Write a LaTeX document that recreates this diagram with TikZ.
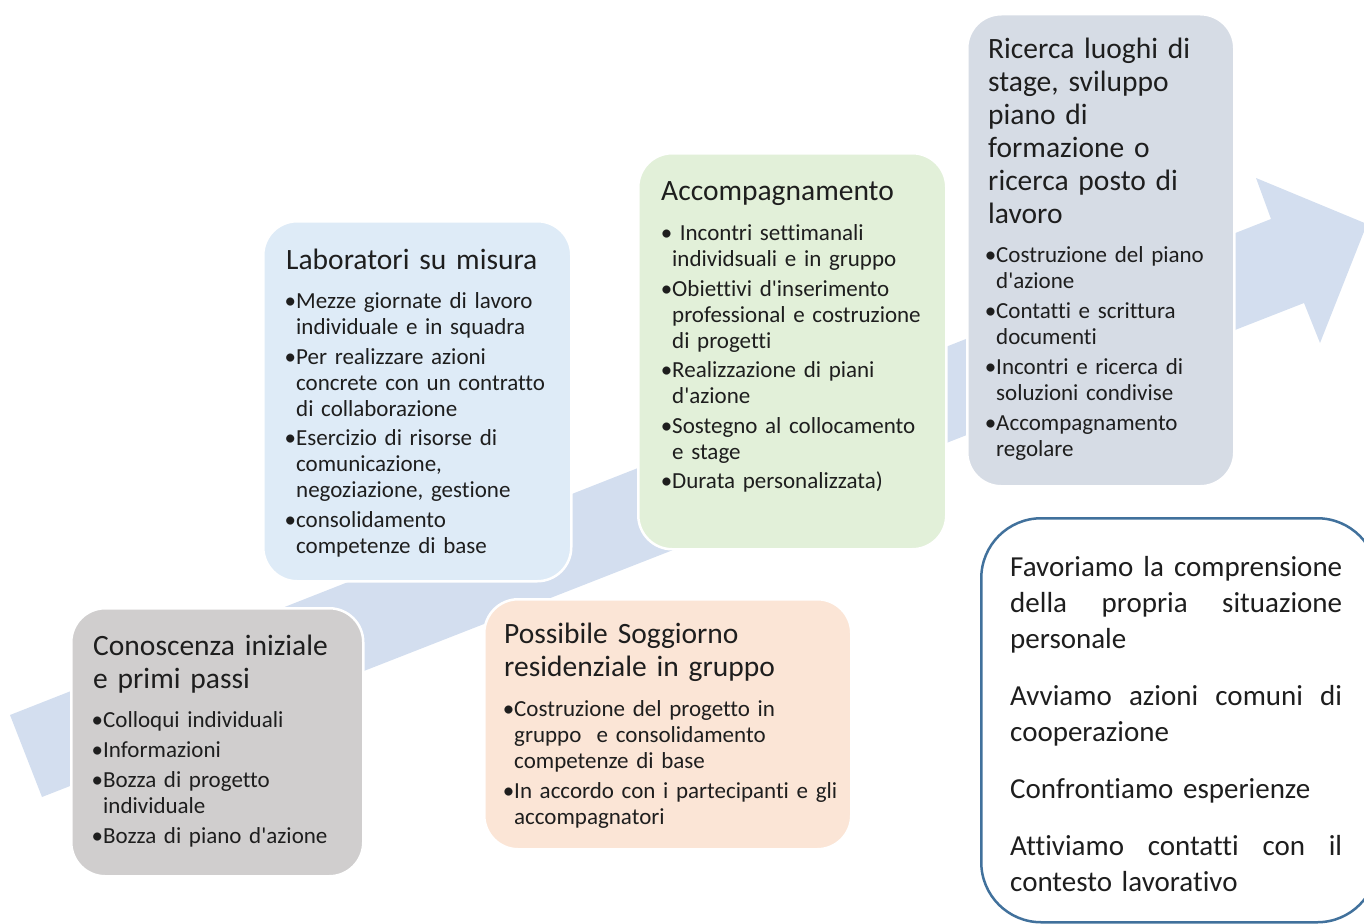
\documentclass[tikz,border=0pt]{standalone}
\usepackage{fontspec}
\setmainfont{Carlito}[Ligatures={TeXOff,CommonOff}]
\definecolor{arrowblue}{RGB}{211,222,239}
\definecolor{boxgray}{RGB}{208,206,206}
\definecolor{boxblue}{RGB}{222,235,247}
\definecolor{boxgreen}{RGB}{226,240,217}
\definecolor{boxpeach}{RGB}{251,229,214}
\definecolor{boxslate}{RGB}{214,220,229}
\definecolor{frameblue}{RGB}{65,113,156}
\definecolor{ink}{RGB}{30,30,30}
\newcommand{\bl}{\leavevmode\llap{•}}
\newcommand{\jline}[1]{\makebox[332pt][s]{#1}}

\begin{document}
\begin{tikzpicture}[x=1pt, y=-1pt,
  stepbox/.style={draw=white, line width=2.5pt, rounded corners=34pt, anchor=north west, inner sep=0pt},
  boxtitle/.style={anchor=base west, text width=380pt, align=left, inner sep=0pt, text=ink, font=\fontsize{29.5}{33}\selectfont},
  boxlist/.style={anchor=base west, text width=380pt, align=left, inner sep=0pt, text=ink, font=\fontsize{23}{26}\selectfont},
  ]
  \useasboundingbox (0,0) rectangle (1364,923);
  \clip (0,0) rectangle (1364,923);
  % big arrow behind the steps
  \fill[arrowblue] (10,715) -- (1271,219) -- (1256,178) -- (1367,224) -- (1320,343) -- (1304,303) -- (42,797) -- cycle;

  \node[stepbox, fill=boxgray, minimum width=292pt, minimum height=268pt] (conosc) at (70,607) {};
  \node[stepbox, fill=boxblue, minimum width=308pt, minimum height=360pt] (lab) at (262,220) {};
  \node[stepbox, fill=boxgreen, minimum width=308pt, minimum height=396pt] (accomp) at (637,152) {};
  \node[stepbox, fill=boxpeach, minimum width=367pt, minimum height=250pt] (sogg) at (483,598) {};
  \node[stepbox, fill=boxslate, minimum width=267pt, minimum height=472pt] (ricerca) at (966,13) {};
  \node[draw=frameblue, line width=2.5pt, rounded corners=60pt, fill=white, anchor=north west, inner sep=0pt,
        minimum width=396pt, minimum height=404pt] (favor) at (980,517) {};

  \node[boxtitle] (conosc-t) at (93,655) {Conoscenza iniziale\\e primi passi};
  \node[boxlist] (conosc-l) at (103,727.5) {\bl Colloqui individuali\\[4pt]\bl Informazioni\\[4pt]\bl Bozza di progetto\\individuale\\[4pt]\bl Bozza di piano d'azione};

  \node[boxtitle] (lab-t) at (286,269) {Laboratori su misura};
  \node[boxlist] (lab-l) at (296,308.5) {\bl Mezze giornate di lavoro\\individuale e in squadra\\[3.5pt]\bl Per realizzare azioni\\concrete con un contratto\\di collaborazione\\[3.5pt]\bl Esercizio di risorse di\\comunicazione,\\negoziazione, gestione\\[3.5pt]\bl consolidamento\\competenze di base};

  \node[boxtitle] (accomp-t) at (661,200) {Accompagnamento};
  \node[boxlist] (accomp-l) at (672,240.5) {\bl\ Incontri settimanali\\individsuali e in gruppo\\[3.5pt]\bl Obiettivi d'inserimento\\professional e costruzione\\di progetti\\[3.5pt]\bl Realizzazione di piani\\d'azione\\[3.5pt]\bl Sostegno al collocamento\\e stage\\[3.5pt]\bl Durata personalizzata)};

  \node[boxtitle] (sogg-t) at (504,643) {Possibile Soggiorno\\residenziale in gruppo};
  \node[boxlist] (sogg-l) at (514,716.5) {\bl Costruzione del progetto in\\gruppo\ \ e consolidamento\\competenze di base\\[3.5pt]\bl In accordo con i partecipanti e gli\\accompagnatori};

  \node[boxtitle] (ricerca-t) at (988,59) {Ricerca luoghi di\\stage, sviluppo\\piano di\\formazione o\\ricerca posto di\\lavoro};
  \node[boxlist] (ricerca-l) at (996,262.5) {\bl Costruzione del piano\\d'azione\\[4pt]\bl Contatti e scrittura\\documenti\\[4pt]\bl Incontri e ricerca di\\soluzioni condivise\\[4pt]\bl Accompagnamento\\regolare};

  \node[anchor=base west, text width=332pt, align=left, inner sep=0pt, text=ink, font=\fontsize{29}{36}\selectfont] (favor-t) at (1010,576)
    {\jline{Favoriamo\hfill la\hfill comprensione}\\\jline{della\hfill propria\hfill situazione}\\personale\\[21pt]
     \jline{Avviamo\hfill azioni\hfill comuni\hfill di}\\cooperazione\\[21pt]
     Confrontiamo esperienze\\[21pt]
     \jline{Attiviamo\hfill contatti\hfill con\hfill il}\\contesto lavorativo};
\end{tikzpicture}
\end{document}
